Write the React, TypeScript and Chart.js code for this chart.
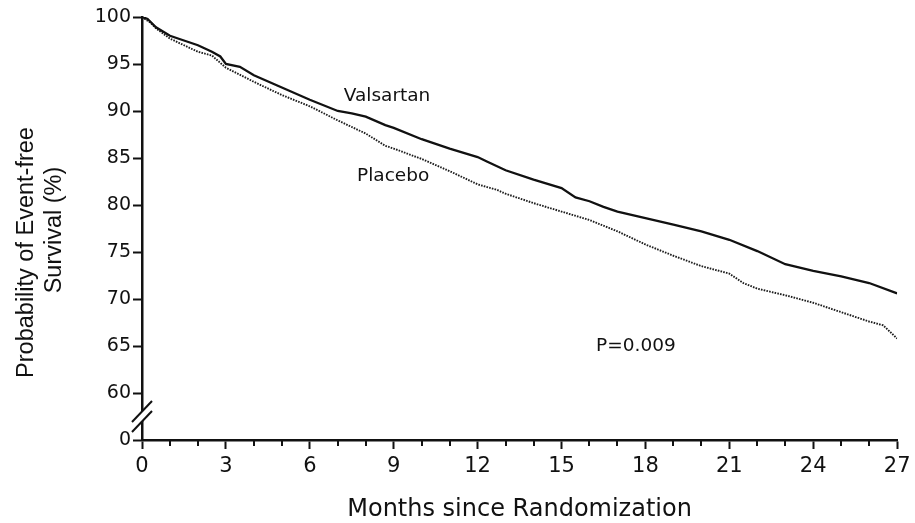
import React, { useEffect, useRef } from "react";
import { Chart, registerables } from "chart.js";

Chart.register(...registerables);

// ---- Data ----
const valsartanMonths = [0, 0.2, 0.5, 1, 1.5, 2, 2.5, 2.8, 3, 3.5, 4, 5, 6, 7, 7.5, 8, 8.7, 9, 10, 11, 12, 12.35, 13, 14, 15, 15.5, 16, 16.5, 17, 18, 19, 20, 21, 22, 23, 24, 25, 26, 27];
const valsartanSurvival = [100, 99.8, 98.9, 98.0, 97.5, 97.0, 96.3, 95.8, 95.0, 94.7, 93.8, 92.5, 91.2, 90.0, 89.75, 89.4, 88.5, 88.2, 87.0, 86.0, 85.1, 84.6, 83.7, 82.7, 81.8, 80.8, 80.4, 79.8, 79.3, 78.6, 77.9, 77.2, 76.3, 75.1, 73.7, 73.0, 72.4, 71.7, 70.6];

const placeboMonths = [0, 0.3, 0.5, 1, 2, 2.5, 3, 4, 5, 6, 7, 8, 8.7, 9, 10, 11, 12, 12.7, 13, 14, 15, 16, 17, 18, 19, 20, 21, 21.5, 22, 23, 24, 25, 26, 26.5, 27];
const placeboSurvival = [100, 99.4, 98.8, 97.7, 96.3, 95.9, 94.6, 93.1, 91.7, 90.5, 89.0, 87.6, 86.3, 86.0, 84.9, 83.6, 82.2, 81.6, 81.2, 80.2, 79.3, 78.4, 77.2, 75.8, 74.6, 73.5, 72.7, 71.7, 71.1, 70.4, 69.6, 68.6, 67.6, 67.2, 65.8];

const seriesNames = ["Valsartan", "Placebo"];

// Axis settings
const xMin = 0;
const xMax = 27;
const xLabelEvery = 3;
const yMin = 55; // bottom of the broken axis, labelled "0"
const yMax = 100;
const yStep = 5;
const yBottomLabel = "0";
const axisBreakValue = 57.5;

// Text annotations (in data coordinates)
const annotationLabels = ["Valsartan", "Placebo", "P=0.009"];
const annotationMonths = [8.76, 8.98, 17.66];
const annotationValues = [91.6, 83.1, 65.0];

const yTitleLines = ["Probability of Event-free", "Survival (%)"];
const xTitle = "Months since Randomization";

const INK = "#111111";

const decorPlugin = {
  id: "decor",
  afterDatasetsDraw(chart: any) {
    const { ctx, scales } = chart;
    const x = scales.x;
    const y = scales.y;
    ctx.save();
    ctx.fillStyle = INK;
    ctx.font = '18.5px "DejaVu Sans"';
    ctx.textAlign = "center";
    ctx.textBaseline = "middle";
    annotationLabels.forEach((t, i) => {
      ctx.fillText(t, x.getPixelForValue(annotationMonths[i]), y.getPixelForValue(annotationValues[i]));
    });
    ctx.restore();
  },
  afterDraw(chart: any) {
    const { ctx, chartArea, scales } = chart;
    const x = scales.x;
    const y = scales.y;
    ctx.save();
    // minor x ticks (every month)
    ctx.strokeStyle = INK;
    ctx.lineWidth = 2;
    x.ticks.forEach((t: any) => {
      if (t.value % xLabelEvery !== 0) {
        const px = Math.round(x.getPixelForValue(t.value));
        ctx.beginPath();
        ctx.moveTo(px, chartArea.bottom);
        ctx.lineTo(px, chartArea.bottom + 6);
        ctx.stroke();
      }
    });
    // axis break marks
    const ax = chartArea.left;
    const by = y.getPixelForValue(axisBreakValue);
    const gap = 5;
    const hx = 10;
    const hy = 10.5;
    ctx.fillStyle = "#ffffff";
    ctx.beginPath();
    ctx.moveTo(ax - hx, by - gap + hy);
    ctx.lineTo(ax + hx, by - gap - hy);
    ctx.lineTo(ax + hx, by + gap - hy);
    ctx.lineTo(ax - hx, by + gap + hy);
    ctx.closePath();
    ctx.fill();
    ctx.lineWidth = 2;
    [by - gap, by + gap].forEach((cy) => {
      ctx.beginPath();
      ctx.moveTo(ax - hx, cy + hy);
      ctx.lineTo(ax + hx, cy - hy);
      ctx.stroke();
    });
    // y axis title (two lines)
    const mid = (chartArea.top + chartArea.bottom) / 2;
    const placements = [
      { bx: 33, dy: 24 },
      { bx: 61, dy: 1.5 },
    ];
    ctx.fillStyle = INK;
    ctx.font = '23.5px "Liberation Sans"';
    ctx.textAlign = "center";
    ctx.textBaseline = "alphabetic";
    yTitleLines.forEach((line, i) => {
      ctx.save();
      ctx.translate(placements[i].bx, mid + placements[i].dy);
      ctx.rotate(-Math.PI / 2);
      ctx.fillText(line, 0, 0);
      ctx.restore();
    });
    ctx.restore();
  },
};

export default function App() {
  const canvasRef = useRef<HTMLCanvasElement | null>(null);

  useEffect(() => {
    if (!canvasRef.current) return;
    const chart = new Chart(canvasRef.current, {
      type: "line",
      data: {
        datasets: [
          {
            label: seriesNames[0],
            data: valsartanMonths.map((m, i) => ({ x: m, y: valsartanSurvival[i] })),
            borderColor: INK,
            borderWidth: 2.3,
            pointRadius: 0,
            tension: 0,
            fill: false,
          },
          {
            label: seriesNames[1],
            data: placeboMonths.map((m, i) => ({ x: m, y: placeboSurvival[i] })),
            borderColor: "#1e1e1e",
            borderWidth: 1.9,
            borderDash: [1.6, 1.2],
            pointRadius: 0,
            tension: 0,
            fill: false,
          },
        ],
      },
      options: {
        responsive: false,
        animation: false,
        devicePixelRatio: 1,
        layout: { padding: { top: 17, right: 12, left: 0, bottom: 0 } },
        plugins: {
          legend: { display: false },
          tooltip: { enabled: false },
        },
        scales: {
          x: {
            type: "linear",
            min: xMin,
            max: xMax,
            afterFit: (scale: any) => {
              scale.height = 83;
            },
            ticks: {
              stepSize: 1,
              autoSkip: false,
              maxRotation: 0,
              padding: 4.5,
              color: INK,
              font: { family: "DejaVu Sans", size: 21 },
              callback: (v: any) => (Number(v) % xLabelEvery === 0 ? String(v) : ""),
            },
            grid: {
              drawOnChartArea: false,
              drawTicks: true,
              tickLength: 9,
              tickWidth: 2,
              tickColor: (c: any) => (c.tick && c.tick.value % xLabelEvery === 0 ? INK : "rgba(0,0,0,0)"),
            },
            border: { display: true, color: INK, width: 2.5 },
            title: {
              display: true,
              text: xTitle,
              color: INK,
              font: { family: "DejaVu Sans", size: 24, lineHeight: 1.1 },
              padding: { top: 0, bottom: 0.2 },
            },
          },
          y: {
            type: "linear",
            min: yMin,
            max: yMax,
            afterFit: (scale: any) => {
              scale.width = 142;
            },
            ticks: {
              stepSize: yStep,
              padding: 2,
              color: INK,
              font: { family: "DejaVu Sans", size: 19 },
              callback: (v: any) => (Number(v) === yMin ? yBottomLabel : String(v)),
            },
            grid: {
              drawOnChartArea: false,
              drawTicks: true,
              tickLength: 9,
              tickWidth: 2,
              tickColor: INK,
            },
            border: { display: true, color: INK, width: 2.5 },
          },
        },
      },
      plugins: [decorPlugin],
    });
    return () => chart.destroy();
  }, []);

  return (
    <div style={{ position: "absolute", left: 0, top: 0, width: 915, height: 523, background: "#fff" }}>
      <canvas ref={canvasRef} width={915} height={523} style={{ display: "block" }} />
    </div>
  );
}
